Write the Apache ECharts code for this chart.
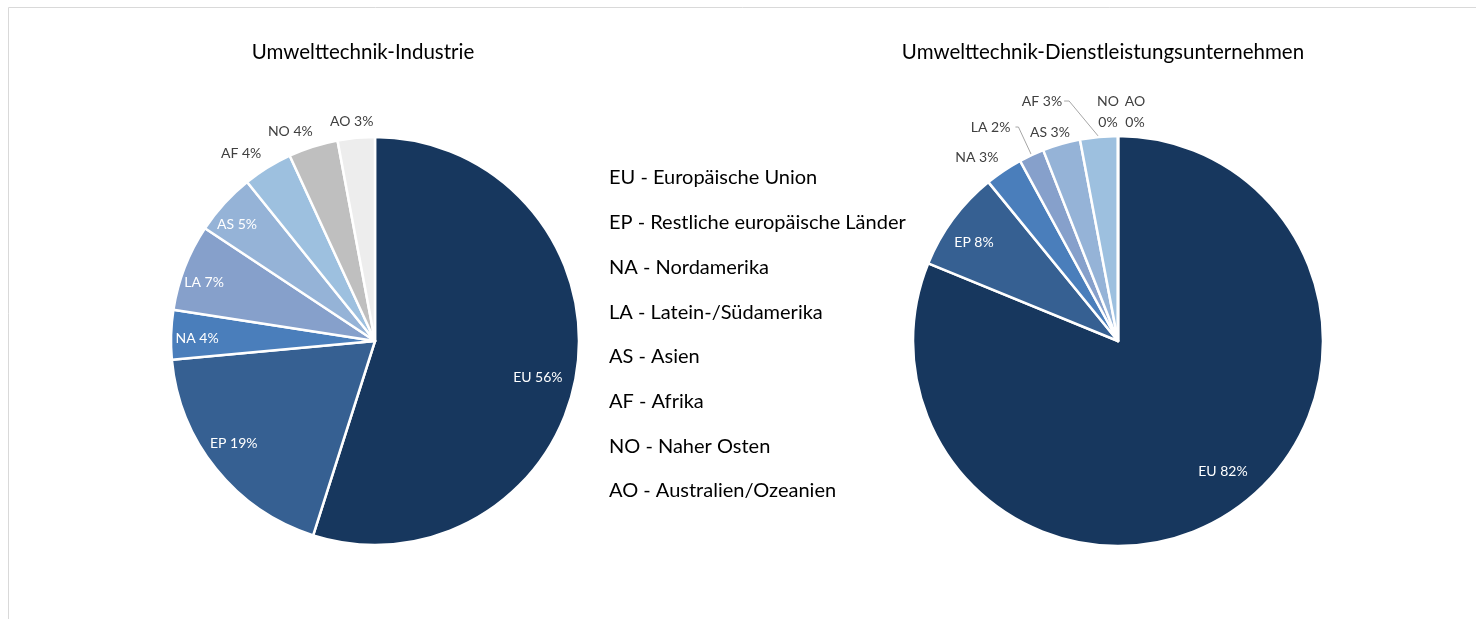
<!DOCTYPE html>
<html>
<head>
<meta charset="utf-8">
<script src="https://cdn.jsdelivr.net/npm/echarts@6/dist/echarts.min.js"></script>
<style>
  html, body { margin: 0; padding: 0; background: #fff; }
  #main { width: 1476px; height: 619px; }
</style>
</head>
<body>
<div id="main"></div>
<script>
const regions = ["EU", "EP", "NA", "LA", "AS", "AF", "NO", "AO"];
const regionNames = ["Europäische Union", "Restliche europäische Länder", "Nordamerika",
  "Latein-/Südamerika", "Asien", "Afrika", "Naher Osten", "Australien/Ozeanien"];
const industryValues = [56, 19, 4, 7, 5, 4, 4, 3];
const serviceValues = [82, 8, 3, 2, 3, 3, 0, 0];
const chartTitles = ["Umwelttechnik-Industrie", "Umwelttechnik-Dienstleistungsunternehmen"];

const colors = ["#17375e", "#366092", "#4a7ebb", "#86a0cb", "#95b3d7", "#9dc0df", "#bfbfbf", "#ededed"];
const FONT = "Lato";

// which labels sit outside the slice, and which get a leader line
const leftOutside = ["AF", "NO", "AO"];
const rightOutside = ["NA", "LA", "AS", "AF", "NO", "AO"];
const rightLines = { LA: [31, 3], AF: [30, 8] };

// pixel nudges for labels: [dx, dy, align, redrawLine]
const leftNudge = {
  EU: [-15, 9], EP: [-1, -10], NA: [2, 3], LA: [-3, 7], AS: [-5, 5],
  AF: [-13, 0, "center"], NO: [-13, 0, "center"], AO: [2, 0, "center"]
};
const rightNudge = {
  EU: [10, -11], EP: [-7, 3],
  NA: [-13, 0, "center"], AS: [-2, 4, "center"], AF: [-21, -6, null, true],
  NO: [-5, 0, "center"], AO: [22, 0, "center"]
};

function sliceData(values) {
  return regions.map((r, i) => ({ name: r, value: values[i], itemStyle: { color: colors[i] } }));
}

function labelData(values, outside, lines) {
  return regions.map((r, i) => {
    const out = outside.includes(r);
    const line = lines && lines[r];
    const zero = values[i] === 0;
    return {
      name: r,
      value: values[i],
      label: out ? {
        position: "outside",
        color: "#404040",
        formatter: zero ? "{b}\n{c}%" : "{b} {c}%",
        lineHeight: 21
      } : { position: "inside", color: "#fff" },
      labelLine: line
        ? { show: true, length: line[0], length2: line[1], lineStyle: { color: "#a6a6a6", width: 1 } }
        : { show: false, length: zero ? 24 : 16, length2: 0 }
    };
  });
}

function nudger(nudge) {
  return function (params) {
    const n = nudge[regions[params.dataIndex]];
    if (!n) return {};
    const o = { dx: n[0], dy: n[1] };
    if (n[2]) o.align = n[2];
    if (n[3] && params.labelLinePoints) {
      // keep the sector end of the leader, hook it to the moved label
      const r = params.labelRect;
      const right = r.x + r.width + n[0];
      const midY = r.y + r.height / 2 + n[1];
      o.labelLinePoints = [params.labelLinePoints[0], [right + 7, midY], [right + 2, midY]];
    }
    return o;
  };
}

const chart = echarts.init(document.getElementById("main"));

const option = {
  animation: false,
  textStyle: { fontFamily: FONT },
  title: [
    { text: chartTitles[0], left: 358, top: 37, textAlign: "center",
      textStyle: { fontFamily: FONT, fontSize: 20.5, fontWeight: "normal", color: "#000" } },
    { text: chartTitles[1], left: 1098, top: 37, textAlign: "center",
      textStyle: { fontFamily: FONT, fontSize: 20.5, fontWeight: "normal", color: "#000" } }
  ],
  legend: {
    orient: "vertical",
    left: 599,
    top: 162,
    icon: "none",
    itemWidth: 0,
    itemHeight: 10,
    itemGap: 22.7,
    selectedMode: false,
    data: regions,
    formatter: name => name + " - " + regionNames[regions.indexOf(name)],
    textStyle: { fontFamily: FONT, fontSize: 20, color: "#000", lineHeight: 22 }
  },
  graphic: [{
    type: "rect",
    silent: true,
    shape: { x: 8.5, y: 7.5, width: 2000, height: 2000 },
    style: { fill: "none", stroke: "#d9d9d9", lineWidth: 1 }
  }],
  series: [
    {
      type: "pie", center: [375, 341], radius: [0, 204], startAngle: 90, clockwise: true,
      data: sliceData(industryValues),
      label: { show: false }, labelLine: { show: false },
      itemStyle: { borderColor: "#fff", borderWidth: 2.5 },
      emphasis: { disabled: true }
    },
    {
      type: "pie", center: [1118, 341], radius: [0, 205], startAngle: 90, clockwise: true,
      data: sliceData(serviceValues),
      label: { show: false }, labelLine: { show: false },
      itemStyle: { borderColor: "#fff", borderWidth: 2.5 },
      emphasis: { disabled: true }
    },
    {
      type: "pie", center: [375, 341], radius: [150, 204], startAngle: 90, clockwise: true,
      silent: true, avoidLabelOverlap: false,
      data: labelData(industryValues, leftOutside, null),
      itemStyle: { color: "rgba(0,0,0,0)" },
      label: { show: true, formatter: "{b} {c}%", fontFamily: FONT, fontSize: 14 },
      labelLayout: nudger(leftNudge),
      emphasis: { disabled: true }
    },
    {
      type: "pie", center: [1118, 341], radius: [130, 205], startAngle: 90, clockwise: true,
      silent: true, avoidLabelOverlap: false,
      data: labelData(serviceValues, rightOutside, rightLines),
      itemStyle: { color: "rgba(0,0,0,0)" },
      label: { show: true, formatter: "{b} {c}%", fontFamily: FONT, fontSize: 14 },
      labelLayout: nudger(rightNudge),
      emphasis: { disabled: true }
    }
  ]
};

chart.setOption(option);
</script>
</body>
</html>
